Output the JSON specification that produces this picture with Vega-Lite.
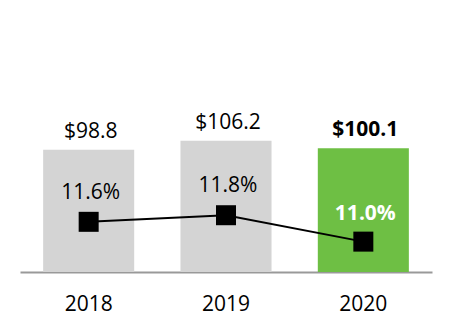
{
  "$schema": "https://vega.github.io/schema/vega-lite/v6.json",
  "width": 412,
  "height": 272,
  "autosize": "none",
  "padding": {"left": 20, "right": 20, "top": 0, "bottom": 60},
  "config": {
    "view": {"stroke": null},
    "font": "Open Sans",
    "text": {"font": "Open Sans"}
  },
  "data": {
    "values": [
      {"year": "2018", "revenue": 98.8, "margin": 11.6, "rlabel": "$98.8", "mlabel": "11.6%"},
      {"year": "2019", "revenue": 106.2, "margin": 11.8, "rlabel": "$106.2", "mlabel": "11.8%"},
      {"year": "2020", "revenue": 100.1, "margin": 11.0, "rlabel": "$100.1", "mlabel": "11.0%"}
    ]
  },
  "encoding": {
    "x": {
      "field": "year",
      "type": "nominal",
      "scale": {"domain": ["2018", "2019", "2020"], "paddingInner": 0.337, "paddingOuter": 0.1685},
      "axis": {
        "title": null,
        "domainColor": "#999999",
        "domainWidth": 2,
        "ticks": false,
        "tickSize": 0,
        "labelAngle": 0,
        "labelFont": "Open Sans",
        "labelFontSize": 21,
        "labelColor": "#000000",
        "labelBaseline": "alphabetic",
        "labelPadding": 38
      }
    }
  },
  "layer": [
    {
      "layer": [
        {
          "mark": {"type": "bar"},
          "encoding": {
            "y": {"field": "revenue", "type": "quantitative", "scale": {"domain": [0, 220]}, "axis": null},
            "color": {
              "condition": {"test": "datum.year == '2020'", "value": "#6ebf44"},
              "value": "#d4d4d4"
            }
          }
        },
        {
          "transform": [{"filter": "datum.year != '2020'"}],
          "mark": {"type": "text", "baseline": "alphabetic", "dy": -12, "dx": 2, "fontSize": 21, "color": "#000000"},
          "encoding": {
            "y": {"field": "revenue", "type": "quantitative", "scale": {"domain": [0, 220]}, "axis": null},
            "text": {"field": "rlabel"}
          }
        },
        {
          "transform": [{"filter": "datum.year == '2020'"}],
          "mark": {"type": "text", "baseline": "alphabetic", "dy": -12, "dx": 2, "fontSize": 21, "fontWeight": "bold", "color": "#000000"},
          "encoding": {
            "y": {"field": "revenue", "type": "quantitative", "scale": {"domain": [0, 220]}, "axis": null},
            "text": {"field": "rlabel"}
          }
        }
      ]
    },
    {
      "layer": [
        {
          "mark": {"type": "line", "color": "#000000", "strokeWidth": 2},
          "encoding": {
            "y": {"field": "margin", "type": "quantitative", "scale": {"domain": [10.08, 18.32]}, "axis": null}
          }
        },
        {
          "mark": {"type": "point", "shape": "square", "filled": true, "size": 400, "color": "#000000", "opacity": 1},
          "encoding": {
            "y": {"field": "margin", "type": "quantitative", "scale": {"domain": [10.08, 18.32]}, "axis": null}
          }
        },
        {
          "transform": [{"filter": "datum.year != '2020'"}],
          "mark": {"type": "text", "baseline": "alphabetic", "dy": -23, "dx": 2, "fontSize": 21, "color": "#000000"},
          "encoding": {
            "y": {"field": "margin", "type": "quantitative", "scale": {"domain": [10.08, 18.32]}, "axis": null},
            "text": {"field": "mlabel"}
          }
        },
        {
          "transform": [{"filter": "datum.year == '2020'"}],
          "mark": {"type": "text", "baseline": "alphabetic", "dy": -22, "dx": 2, "fontSize": 21, "fontWeight": "bold", "color": "#ffffff"},
          "encoding": {
            "y": {"field": "margin", "type": "quantitative", "scale": {"domain": [10.08, 18.32]}, "axis": null},
            "text": {"field": "mlabel"}
          }
        }
      ]
    }
  ],
  "resolve": {"scale": {"y": "independent"}}
}
